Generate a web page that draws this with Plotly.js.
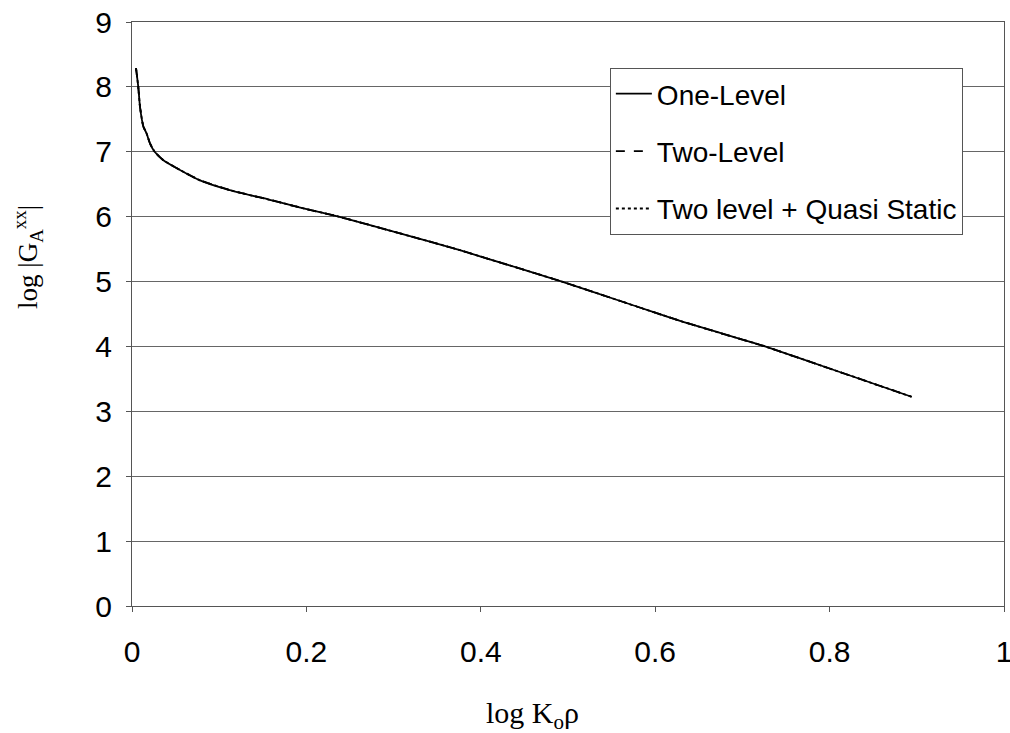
<!DOCTYPE html>
<html><head><meta charset="utf-8">
<script src="https://cdn.plot.ly/plotly-3.0.1.min.js"></script>
<style>body{margin:0;background:#fff}#c{width:1010px;height:733px}</style>
</head><body><div id="c"></div>
<script>
const xVals = [0.0046, 0.0072, 0.0092, 0.013, 0.0168, 0.0206, 0.026, 0.036, 0.055, 0.078, 0.112, 0.158, 0.193, 0.237, 0.3, 0.376, 0.4, 0.493, 0.56, 0.6, 0.632, 0.7, 0.726, 0.8, 0.894];
const oneLevel = [8.29, 8.0, 7.69, 7.39, 7.28, 7.13, 7.0, 6.87, 6.72, 6.56, 6.41, 6.26, 6.14, 6.0, 5.77, 5.485, 5.385, 5.0, 4.70, 4.52, 4.38, 4.105, 4.0, 3.66, 3.225];
const twoLevel = oneLevel.slice();
const quasiStatic = oneLevel.slice();
const seriesNames = ["One-Level", "Two-Level", "Two level + Quasi Static"];
const xTicks = [0, 0.2, 0.4, 0.6, 0.8, 1];
const xTickText = ["0", "0.2", "0.4", "0.6", "0.8", "1"];
const yTicks = [0,1,2,3,4,5,6,7,8,9];
const xTitle = "log K<sub>o</sub>ρ";
const yTitle = "log |G<sub>A</sub><sup>xx</sup>|";

const dashes = ["solid", "dash", "dot"];
const ys = [oneLevel, twoLevel, quasiStatic];
const traces = ys.map((y, i) => ({
  x: xVals, y: y, type: "scatter", mode: "lines", name: seriesNames[i],
  legendgroup: "g" + i,
  line: {color: "#000", width: 1.8, dash: dashes[i], shape: "spline", smoothing: 0.5}
}));

const tickFont = {family: "Liberation Sans, Arial, sans-serif", size: 30, color: "#000"};
const titleFont = {family: "Liberation Serif, Times New Roman, serif", size: 30, color: "#000"};

const layout = {
  width: 1010, height: 733,
  margin: {l: 132, r: 6, t: 22, b: 127},
  paper_bgcolor: "#fff", plot_bgcolor: "#fff",
  showlegend: true,
  legend: {
    x: 0.548, y: (606 - 68) / 584, xanchor: "left", yanchor: "top",
    bordercolor: "#555", borderwidth: 1, bgcolor: "#fff",
    font: {family: "Liberation Sans, Arial, sans-serif", size: 28, color: "#000"},
    tracegroupgap: 18, traceorder: "grouped", itemwidth: 36
  },
  xaxis: {
    range: [0, 1], tickvals: xTicks, ticktext: xTickText,
    showgrid: false, zeroline: false,
    showline: true, linecolor: "#555", linewidth: 1, mirror: true,
    ticks: "outside", ticklen: 5, tickcolor: "#555",
    ticklabelstandoff: 14, ticklabeloverflow: "allow",
    tickfont: tickFont
  },
  yaxis: {
    range: [0, 9], tickvals: yTicks,
    showgrid: true, gridcolor: "#666", gridwidth: 1, zeroline: false,
    showline: true, linecolor: "#555", linewidth: 1, mirror: true,
    ticks: "outside", ticklen: 5, tickcolor: "#555",
    ticklabelstandoff: 8, ticklabeloverflow: "allow",
    tickfont: tickFont
  },
  annotations: [
    {text: xTitle, xref: "paper", yref: "paper", x: (532 - 132) / 872, y: -(715 - 606) / 584,
     xanchor: "center", yanchor: "middle", showarrow: false, font: titleFont},
    {text: yTitle, xref: "paper", yref: "paper", x: -(132 - 28) / 872, y: (606 - 257) / 584,
     xanchor: "center", yanchor: "middle", showarrow: false, textangle: -90,
     font: {family: "Liberation Serif, Times New Roman, serif", size: 27, color: "#000"}}
  ]
};
Plotly.newPlot("c", traces, layout, {displayModeBar: false, staticPlot: true});
</script></body></html>
